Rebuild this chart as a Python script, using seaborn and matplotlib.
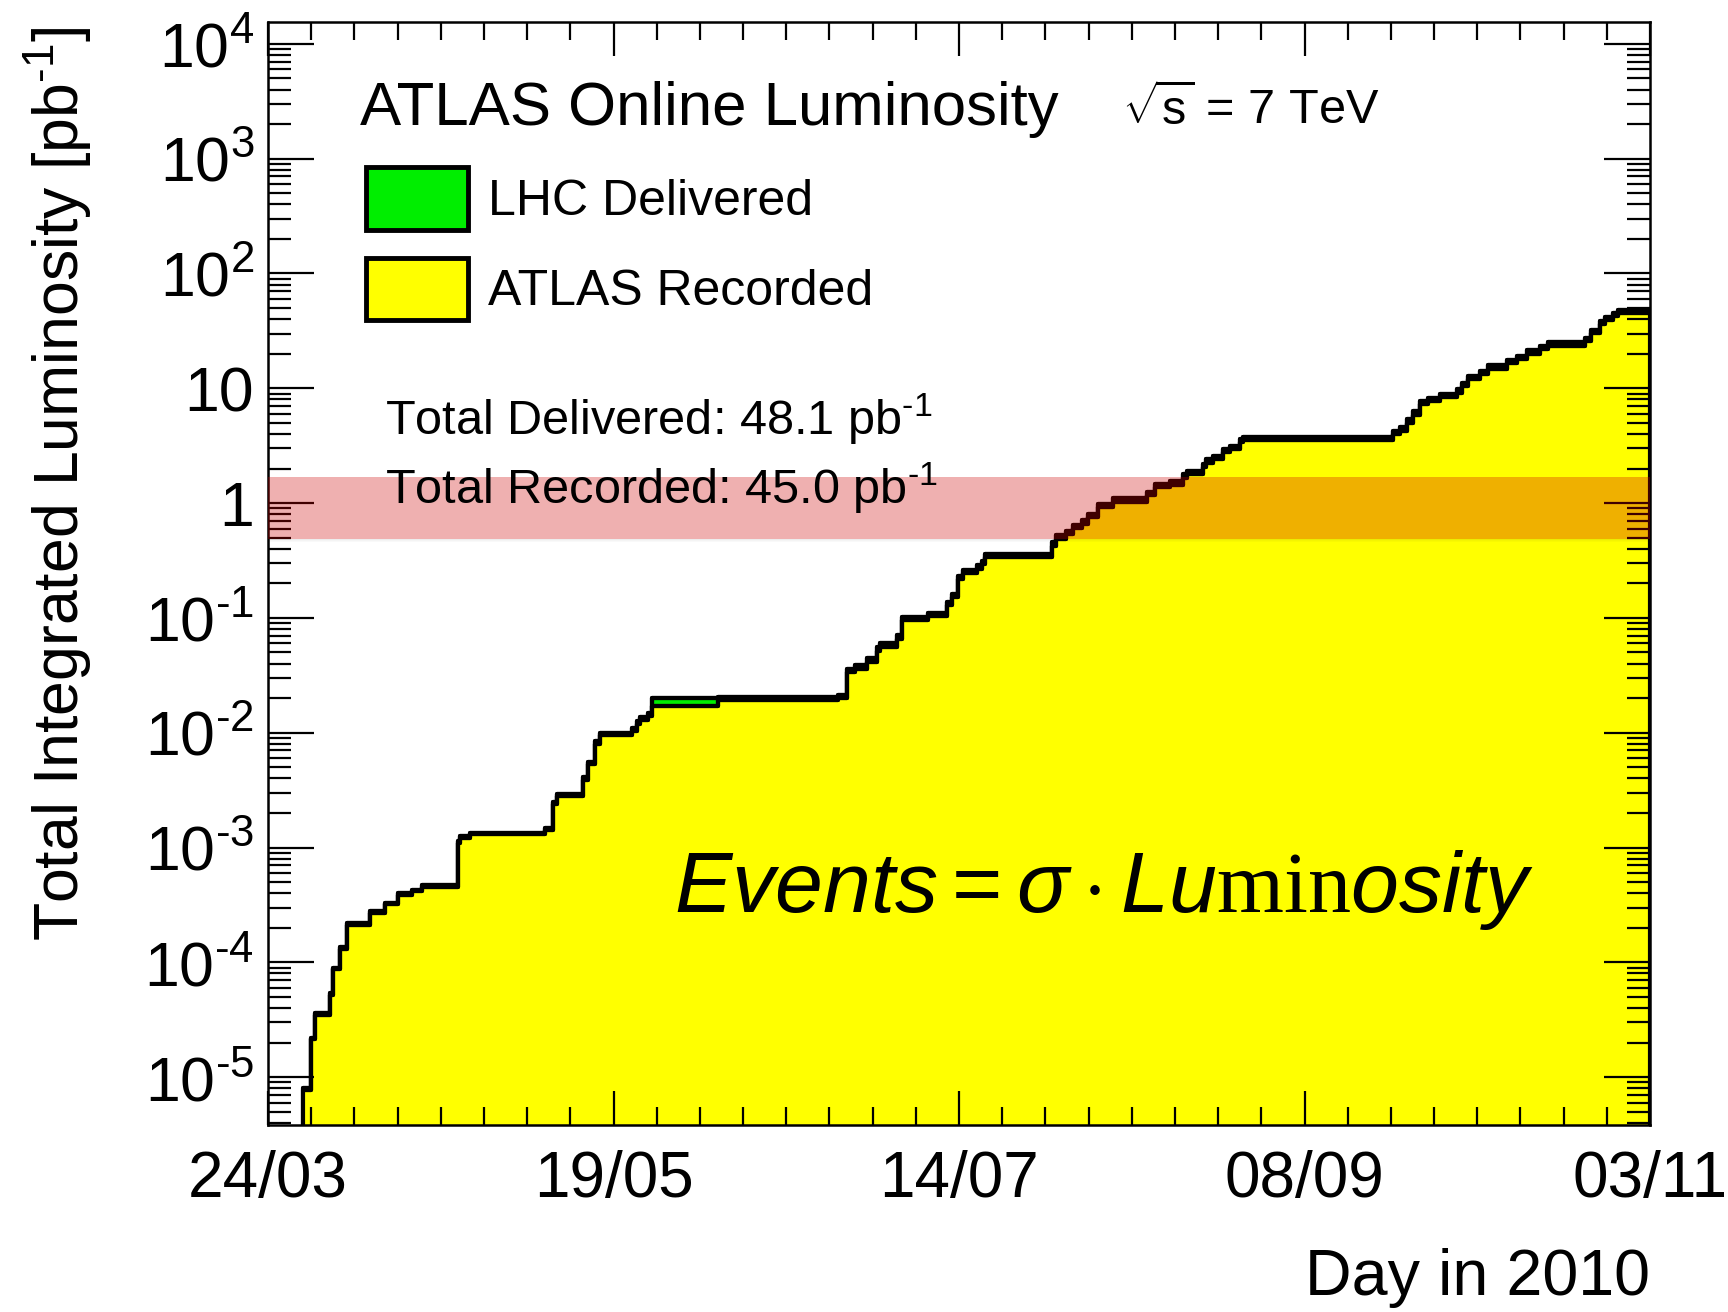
import matplotlib
matplotlib.use("Agg")
import matplotlib.pyplot as plt
import seaborn as sns
from matplotlib.ticker import FixedLocator, FixedFormatter, MultipleLocator, LogLocator, NullFormatter

# ---------------- data (days since 24/03/2010, integrated luminosity in pb^-1) ----------------
days = [5.7, 7.0, 7.6, 10.1, 10.5, 11.7, 12.8, 16.5, 19.0, 21.1, 23.3, 25.0, 30.8, 31.1, 32.7,
        44.9, 46.2, 46.8, 51.1, 51.9, 53.0, 53.8, 59.0, 59.8, 60.3, 61.6, 62.2, 72.9, 92.4, 93.8,
        95.1, 97.1, 98.7, 99.2, 101.9, 102.7, 107.0, 110.0, 110.8, 111.8, 112.6, 114.9, 115.7, 116.2,
        127.0, 127.8, 129.4, 130.5, 131.9, 132.9, 134.5, 137.0, 142.4, 143.8, 146.2, 148.3, 148.9,
        151.5, 152.1, 153.2, 154.8, 155.9, 157.5, 158.0, 182.3, 183.5, 184.6, 185.6, 186.7, 188.0,
        190.0, 192.7, 193.5, 194.5, 196.4, 197.7, 200.8, 202.4, 204.0, 206.2, 207.5, 213.5, 214.5,
        215.9, 216.7, 218.0, 218.8, 224.0]

delivered = [8.0e-6, 2.2e-5, 3.6e-5, 5.4e-5, 9.0e-5, 1.35e-4, 2.2e-4, 2.8e-4, 3.3e-4, 4.0e-4, 4.3e-4,
             4.7e-4, 1.15e-3, 1.26e-3, 1.35e-3, 1.48e-3, 2.5e-3, 2.95e-3, 4.1e-3, 5.6e-3, 8.5e-3, 1.0e-2,
             1.1e-2, 1.26e-2, 1.38e-2, 1.48e-2, 2.0e-2, 2.05e-2, 2.15e-2, 3.6e-2, 3.9e-2, 4.5e-2, 5.6e-2,
             6.0e-2, 7.1e-2, 0.102, 0.110, 0.138, 0.162, 0.234, 0.263, 0.288, 0.316, 0.363, 0.457, 0.525,
             0.575, 0.645, 0.71, 0.81, 0.98, 1.10, 1.26, 1.48, 1.55, 1.78, 1.90, 2.19, 2.40, 2.57, 2.95,
             3.16, 3.63, 3.80, 4.27, 4.57, 5.37, 6.3, 7.76, 8.3, 8.9, 9.8, 11.2, 12.9, 14.1, 15.8, 17.8,
             19.1, 21.4, 23.4, 25.1, 27.5, 32.4, 38.9, 41.7, 45.7, 48.1, 48.1]

recorded = [7.8e-6, 2.15e-5, 3.5e-5, 5.2e-5, 8.7e-5, 1.3e-4, 2.1e-4, 2.7e-4, 3.2e-4, 3.85e-4, 4.15e-4,
            4.5e-4, 1.1e-3, 1.2e-3, 1.3e-3, 1.42e-3, 2.4e-3, 2.8e-3, 3.9e-3, 5.3e-3, 8.0e-3, 9.5e-3,
            1.04e-2, 1.19e-2, 1.3e-2, 1.4e-2, 1.72e-2, 1.92e-2, 2.0e-2, 3.35e-2, 3.6e-2, 4.15e-2, 5.2e-2,
            5.6e-2, 6.6e-2, 9.5e-2, 0.103, 0.129, 0.151, 0.218, 0.245, 0.269, 0.295, 0.339, 0.427, 0.49,
            0.537, 0.603, 0.664, 0.757, 0.916, 1.03, 1.18, 1.38, 1.45, 1.66, 1.78, 2.05, 2.24, 2.40, 2.76,
            2.95, 3.39, 3.55, 3.99, 4.27, 5.02, 5.89, 7.26, 7.76, 8.32, 9.16, 10.5, 12.1, 13.2, 14.8, 16.6,
            17.9, 20.0, 21.9, 23.5, 25.7, 30.3, 36.4, 39.0, 42.7, 45.0, 45.0]

x_tick_days = [0, 56, 112, 168, 224]
x_tick_labels = ["24/03", "19/05", "14/07", "08/09", "03/11"]
y_tick_values = [1e-5, 1e-4, 1e-3, 1e-2, 1e-1, 1, 10, 1e2, 1e3, 1e4]
y_tick_labels = [r"$10^{\text{-}5}$", r"$10^{\text{-}4}$", r"$10^{\text{-}3}$", r"$10^{\text{-}2}$",
                 r"$10^{\text{-}1}$", "1", "10", r"$10^{2}$", r"$10^{3}$", r"$10^{4}$"]
series_names = ["LHC Delivered", "ATLAS Recorded"]
total_delivered = 48.1
total_recorded = 45.0
band_low, band_high = 0.49, 1.70

# ---------------- style ----------------
sns.set_style("white")
plt.rcParams["font.family"] = ["Liberation Sans", "DejaVu Sans"]
plt.rcParams["mathtext.fontset"] = "custom"
plt.rcParams["mathtext.rm"] = "Liberation Sans"
plt.rcParams["mathtext.it"] = "Liberation Sans:italic"
plt.rcParams["mathtext.bf"] = "Liberation Sans:bold"
plt.rcParams["mathtext.sf"] = "Liberation Serif"
plt.rcParams["text.color"] = "black"
plt.rcParams["axes.labelcolor"] = "black"
plt.rcParams["xtick.color"] = "black"
plt.rcParams["ytick.color"] = "black"
plt.rcParams["axes.axisbelow"] = False

W, H = 1728, 1312
fig = plt.figure(figsize=(W / 100, H / 100), dpi=100)
fig.patch.set_facecolor("white")
ax = fig.add_axes([268 / W, 1 - 1125 / H, 1382 / W, 1103 / H])
ax.set_facecolor("white")
ax.set_axisbelow(False)
ax.set_yscale("log")
ax.set_xlim(0, 224)
ymin, ymax = 3.83e-6, 1.55e4
ax.set_ylim(ymin, ymax)

green = "#00ee00"
yellow = "#ffff00"
lw = 3.0
fd = ax.fill_between(days, delivered, ymin * 0.1, step="post", facecolor=green,
                     edgecolor="black", linewidth=lw, label=series_names[0], zorder=2)
fr = ax.fill_between(days, recorded, ymin * 0.1, step="post", facecolor=yellow,
                     edgecolor="black", linewidth=lw, label=series_names[1], zorder=2.1)
sns.lineplot(x=days, y=delivered, drawstyle="steps-post", color="black", linewidth=lw,
             estimator=None, sort=False, ax=ax, legend=False, zorder=2.05)
sns.lineplot(x=days, y=recorded, drawstyle="steps-post", color="black", linewidth=lw,
             estimator=None, sort=False, ax=ax, legend=False, zorder=2.15)

# highlighted band with a faint shadow below it
ax.axhspan(band_low, band_high, color=(206 / 255, 0, 0), alpha=0.31, lw=0, zorder=10)
shade = band_low
for a in [0.10, 0.07, 0.045, 0.025, 0.012]:
    ax.axhspan(shade * 0.985, shade, color="black", alpha=a, lw=0, zorder=10)
    shade *= 0.985

# ticks
ax.xaxis.set_major_locator(FixedLocator(x_tick_days))
ax.xaxis.set_major_formatter(FixedFormatter(x_tick_labels))
ax.xaxis.set_minor_locator(MultipleLocator(7))
ax.yaxis.set_major_locator(FixedLocator(y_tick_values))
ax.yaxis.set_major_formatter(FixedFormatter(y_tick_labels))
ax.yaxis.set_minor_locator(LogLocator(base=10, subs=[2, 3, 4, 5, 6, 7, 8, 9], numticks=100))
ax.yaxis.set_minor_formatter(NullFormatter())
ax.tick_params(which="both", direction="in", top=True, right=True, bottom=True, left=True,
               width=1.6, color="black", labelcolor="black")
ax.tick_params(axis="y", which="major", length=33, pad=10, labelsize=45)
ax.tick_params(axis="y", which="minor", length=16.5)
ax.tick_params(axis="x", which="major", length=24.5, pad=18, labelsize=46)
ax.tick_params(axis="x", which="minor", length=12.7)
for s in ax.spines.values():
    s.set_linewidth(1.8)
    s.set_color("black")
    s.set_zorder(5)

# legend
leg = ax.legend(handles=[fd, fr], labels=series_names, loc="upper left",
                bbox_to_anchor=((366 - 268) / 1382, (1125 - 167) / 1103),
                frameon=False, fontsize=36, borderpad=0, borderaxespad=0,
                handlelength=2.04, handleheight=1.55, handletextpad=0.4, labelspacing=0.56)
for h in leg.legend_handles:
    h.set_linewidth(3.5)

# texts
def ftext(x, y, s, **kw):
    return fig.text(x / W, 1 - y / H, s, color="black", **kw)

ftext(360, 124.5, "ATLAS Online Luminosity", fontsize=44.5, va="baseline", ha="left")
ftext(1122, 124.5, r"$\sqrt{\mathrm{s}}$ = 7 TeV", fontsize=35, va="baseline", ha="left")
ftext(385, 435, "Total Delivered: %.1f pb$^{\\text{-}1}$" % total_delivered, fontsize=35,
      va="baseline", ha="left")
ftext(385, 503.5, "Total Recorded: %.1f pb$^{\\text{-}1}$" % total_recorded, fontsize=35,
      va="baseline", ha="left")
ftext(674, 912, r"$Events = \sigma \cdot Lu\mathsf{min}osity$", fontsize=62, va="baseline", ha="left")
ftext(1650, 1295, "Day in 2010", fontsize=46.5, va="baseline", ha="right")
ftext(58, 27, "Total Integrated Luminosity [pb$^{\\text{-}1}$]", fontsize=45, va="top", ha="center",
      rotation=90)

fig.savefig("out.png", dpi=100, facecolor="white")
